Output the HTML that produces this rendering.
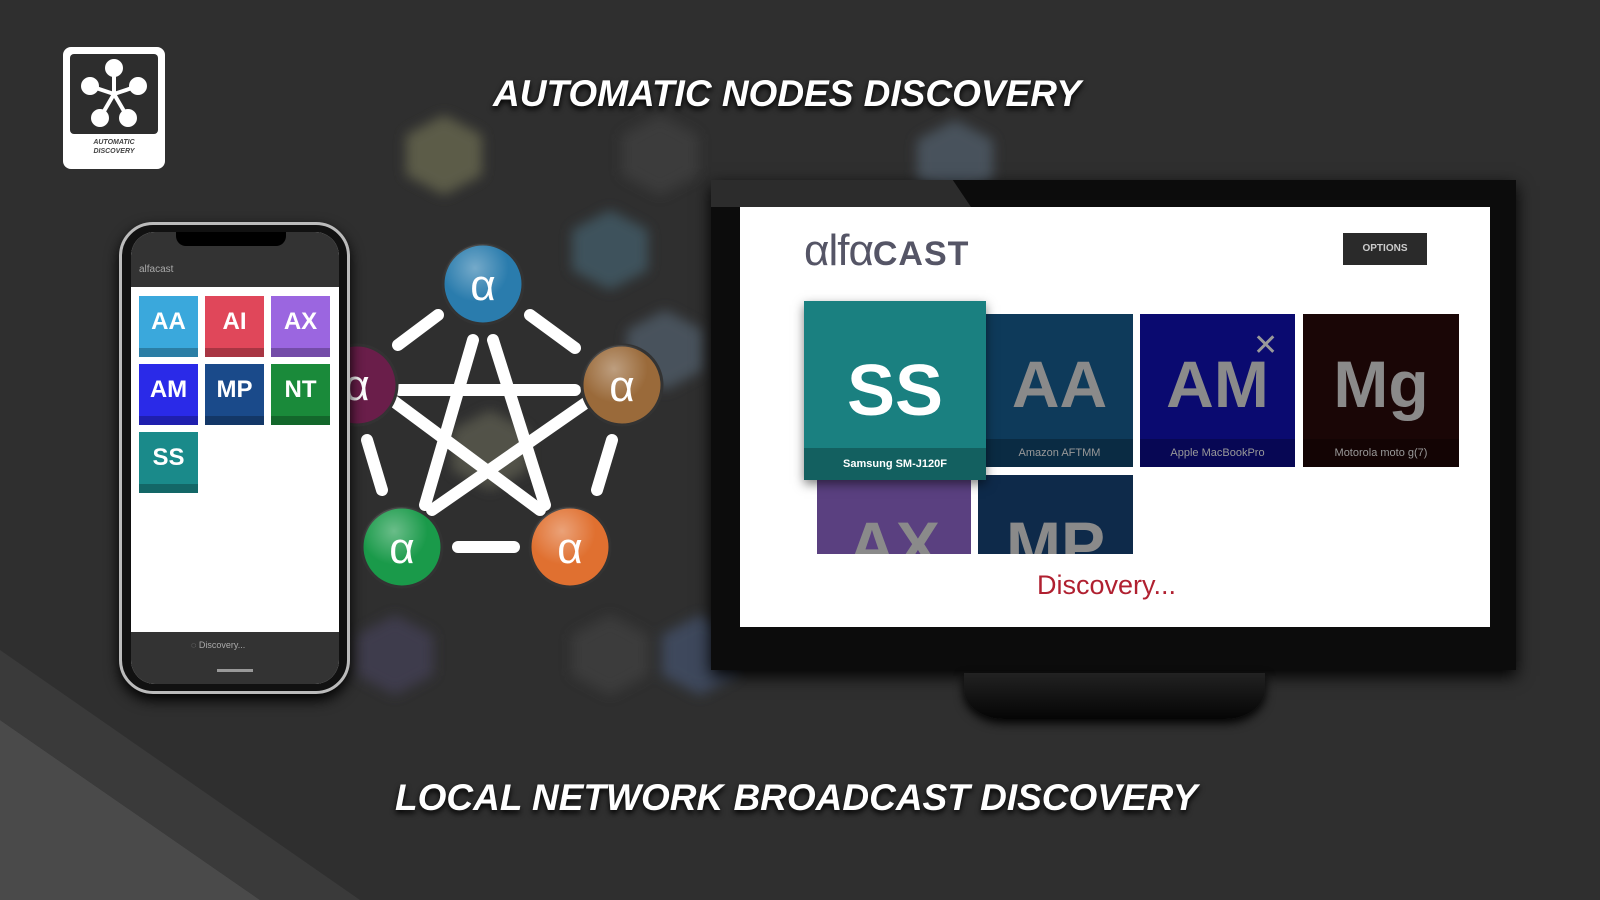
<!DOCTYPE html>
<html><head><meta charset="utf-8"><style>
*{margin:0;padding:0;box-sizing:border-box}
body{width:1600px;height:900px;overflow:hidden;background:#2f2f2f;font-family:"Liberation Sans",sans-serif;position:relative}
.a{position:absolute}
.title{position:absolute;color:#fff;font-weight:bold;font-style:italic;font-size:37px;white-space:nowrap;text-shadow:0 3px 6px #000;letter-spacing:0px}
.pt{position:absolute;width:59px;height:61px;color:#fff;font-weight:bold;font-size:24px;text-align:center;line-height:52px}
.pt i{position:absolute;left:0;right:0;bottom:0;height:9px;background:rgba(0,0,0,.25)}
.tt{position:absolute;color:#8a8a8a;font-weight:bold;font-size:66px;text-align:center;overflow:hidden}
.tt i{position:absolute;left:0;right:0;bottom:0;height:28px;background:rgba(0,0,0,.25);font-style:normal;font-size:11px;font-weight:normal;line-height:28px;color:#999}
</style></head><body>
<svg class="a" style="left:0;top:0" width="1600" height="900">
<defs><filter id="bl"><feGaussianBlur stdDeviation="6"/></filter>
<radialGradient id="gl" cx="40%" cy="30%" r="70%"><stop offset="0" stop-color="#fff" stop-opacity=".35"/><stop offset=".6" stop-color="#fff" stop-opacity="0"/></radialGradient></defs>
<polygon points="0,720 260,900 0,900" fill="#4a4a4a"/>
<polygon points="0,650 360,900 260,900 0,720" fill="#3a3a3a"/>
<g filter="url(#bl)" opacity=".6">
<polygon points="444,115 482,135 482,175 444,195 406,175 406,135" fill="#7a7a5a"/>
<polygon points="660,115 698,135 698,175 660,195 622,175 622,135" fill="#444"/>
<polygon points="955,120 993,140 993,180 955,200 917,180 917,140" fill="#5a6a7a"/>
<polygon points="610,210 648,230 648,270 610,290 572,270 572,230" fill="#4a6a7a"/>
<polygon points="665,310 703,330 703,370 665,390 627,370 627,330" fill="#5a6a7a"/>
<polygon points="395,615 433,635 433,675 395,695 357,675 357,635" fill="#4a4560"/>
<polygon points="610,615 648,635 648,675 610,695 572,675 572,635" fill="#444"/>
<polygon points="700,615 738,635 738,675 700,695 662,675 662,635" fill="#4a5a7a"/>
<polygon points="490,410 528,430 528,470 490,490 452,470 452,430" fill="#6a6a5a"/>
</g>
<g stroke="#fff" stroke-width="12" stroke-linecap="round">
<line x1="438" y1="315" x2="398" y2="345"/>
<line x1="530" y1="315" x2="575" y2="348"/>
<line x1="612" y1="440" x2="597" y2="490"/>
<line x1="458" y1="547" x2="514" y2="547"/>
<line x1="367" y1="440" x2="382" y2="490"/>
<line x1="473" y1="340" x2="425" y2="505"/>
<line x1="493" y1="340" x2="545" y2="505"/>
<line x1="400" y1="390" x2="575" y2="390"/>
<line x1="392" y1="400" x2="540" y2="510"/>
<line x1="590" y1="400" x2="432" y2="510"/>
</g>
<g font-family="Liberation Sans" font-size="44" fill="#fff" text-anchor="middle">
<circle cx="357" cy="385" r="40" fill="#6a1e4a" stroke="#333" stroke-width="3"/><text x="357" y="400">α</text>
<circle cx="483" cy="284" r="40" fill="#2a7cad" stroke="#333" stroke-width="3"/><circle cx="483" cy="284" r="40" fill="url(#gl)"/><text x="483" y="300">α</text>
<circle cx="622" cy="385" r="40" fill="#9a6a3a" stroke="#333" stroke-width="3"/><circle cx="622" cy="385" r="40" fill="url(#gl)"/><text x="622" y="401">α</text>
<circle cx="570" cy="547" r="40" fill="#e07030" stroke="#333" stroke-width="3"/><circle cx="570" cy="547" r="40" fill="url(#gl)"/><text x="570" y="563">α</text>
<circle cx="402" cy="547" r="40" fill="#1a9a4a" stroke="#333" stroke-width="3"/><circle cx="402" cy="547" r="40" fill="url(#gl)"/><text x="402" y="563">α</text>
</g>
</svg>
<!-- logo -->
<div class="a" style="left:63px;top:47px;width:102px;height:122px;background:#fff;border-radius:8px"></div>
<div class="a" style="left:70px;top:54px;width:88px;height:80px;background:#2d2d2d;border-radius:4px"></div>
<svg class="a" style="left:70px;top:54px" width="88" height="80"><g stroke="#fff" stroke-width="4" fill="#fff"><line x1="44" y1="40" x2="44" y2="14"/><line x1="44" y1="40" x2="20" y2="32"/><line x1="44" y1="40" x2="68" y2="32"/><line x1="44" y1="40" x2="30" y2="64"/><line x1="44" y1="40" x2="58" y2="64"/><circle cx="44" cy="14" r="7"/><circle cx="20" cy="32" r="7"/><circle cx="68" cy="32" r="7"/><circle cx="30" cy="64" r="7"/><circle cx="58" cy="64" r="7"/></g></svg>
<div class="a" style="left:63px;top:138px;width:102px;text-align:center;font-size:7px;font-style:italic;font-weight:bold;color:#444;line-height:9px">AUTOMATIC<br>DISCOVERY</div>
<div class="title" style="left:493px;top:73px">AUTOMATIC NODES DISCOVERY</div>
<div class="title" style="left:395px;top:777px">LOCAL NETWORK BROADCAST DISCOVERY</div>
<!-- phone -->
<div class="a" style="left:119px;top:222px;width:231px;height:472px;border-radius:34px;background:#111;border:3px solid #bbb;box-shadow:0 6px 14px #000"></div>
<div class="a" style="left:131px;top:232px;width:208px;height:452px;border-radius:24px;background:#fff;overflow:hidden">
 <div class="a" style="left:0;top:0;width:208px;height:55px;background:#333"></div>
 <div class="a" style="left:8px;top:32px;color:#aaa;font-size:10px">alfacast</div>
 <div class="a" style="left:45px;top:0;width:110px;height:14px;background:#000;border-radius:0 0 10px 10px"></div>
 <div class="a" style="left:0;top:400px;width:208px;height:52px;background:#333"></div>
 <div class="a" style="left:60px;top:408px;color:#aaa;font-size:9px">◌ Discovery...</div>
 <div class="a" style="left:86px;top:437px;width:36px;height:3px;background:#999"></div>
</div>
<div class="pt" style="left:139px;top:296px;background:#3aa8dc">AA<i></i></div>
<div class="pt" style="left:205px;top:296px;background:#e0475a">AI<i></i></div>
<div class="pt" style="left:271px;top:296px;background:#9b66e0">AX<i></i></div>
<div class="pt" style="left:139px;top:364px;background:#2a2ae8">AM<i></i></div>
<div class="pt" style="left:205px;top:364px;background:#1a4a8a">MP<i></i></div>
<div class="pt" style="left:271px;top:364px;background:#1a8a3a">NT<i></i></div>
<div class="pt" style="left:139px;top:432px;background:#1a8a8a">SS<i></i></div>
<!-- TV -->
<div class="a" style="left:711px;top:180px;width:805px;height:490px;background:#0c0c0c;box-shadow:0 6px 16px #000"></div>
<div class="a" style="left:711px;top:180px;width:260px;height:300px;background:#2c2c2c;clip-path:polygon(0 0,93% 0,100% 9%,0 9%)"></div>
<div class="a" style="left:964px;top:673px;width:301px;height:46px;border-radius:0 0 40px 40px/0 0 30px 30px;background:linear-gradient(#222,#050505);box-shadow:0 4px 10px #000"></div>
<div class="a" style="left:740px;top:207px;width:750px;height:420px;background:#fff"></div>
<div class="a" style="left:804px;top:226px;color:#556;font-size:44px;letter-spacing:-1px">αlfα<span style="font-size:34px;font-weight:bold;letter-spacing:1px">CAST</span></div>
<div class="a" style="left:1343px;top:233px;width:84px;height:32px;background:#2a2a2a;color:#ccc;font-size:10px;text-align:center;line-height:32px;font-weight:bold">OPTIONS</div>
<div class="tt" style="left:817px;top:480px;width:154px;height:74px;background:#5a4080;line-height:130px">AX</div>
<div class="tt" style="left:978px;top:475px;width:155px;height:79px;background:#0e2a4a;line-height:140px">MP</div>
<div class="tt" style="left:986px;top:314px;width:147px;height:153px;background:#0e3a5a;line-height:140px">AA<i>Amazon AFTMM</i></div>
<div class="tt" style="left:1140px;top:314px;width:155px;height:153px;background:#0a0a70;line-height:140px">AM<i>Apple MacBookPro</i></div>
<div class="a" style="left:1253px;top:328px;color:#999;font-size:30px">✕</div>
<div class="tt" style="left:1303px;top:314px;width:156px;height:153px;background:#1a0606;line-height:140px">Mg<i>Motorola moto g(7)</i></div>
<div class="tt" style="left:804px;top:301px;width:182px;height:179px;background:#1a8080;color:#fff;line-height:180px;font-size:72px;box-shadow:0 4px 10px rgba(0,0,0,.5)">SS<i style="height:32px;line-height:32px;color:#fff;font-weight:bold">Samsung SM-J120F</i></div>
<div class="a" style="left:1037px;top:570px;color:#b02030;font-size:27px">Discovery...</div>
</body></html>
